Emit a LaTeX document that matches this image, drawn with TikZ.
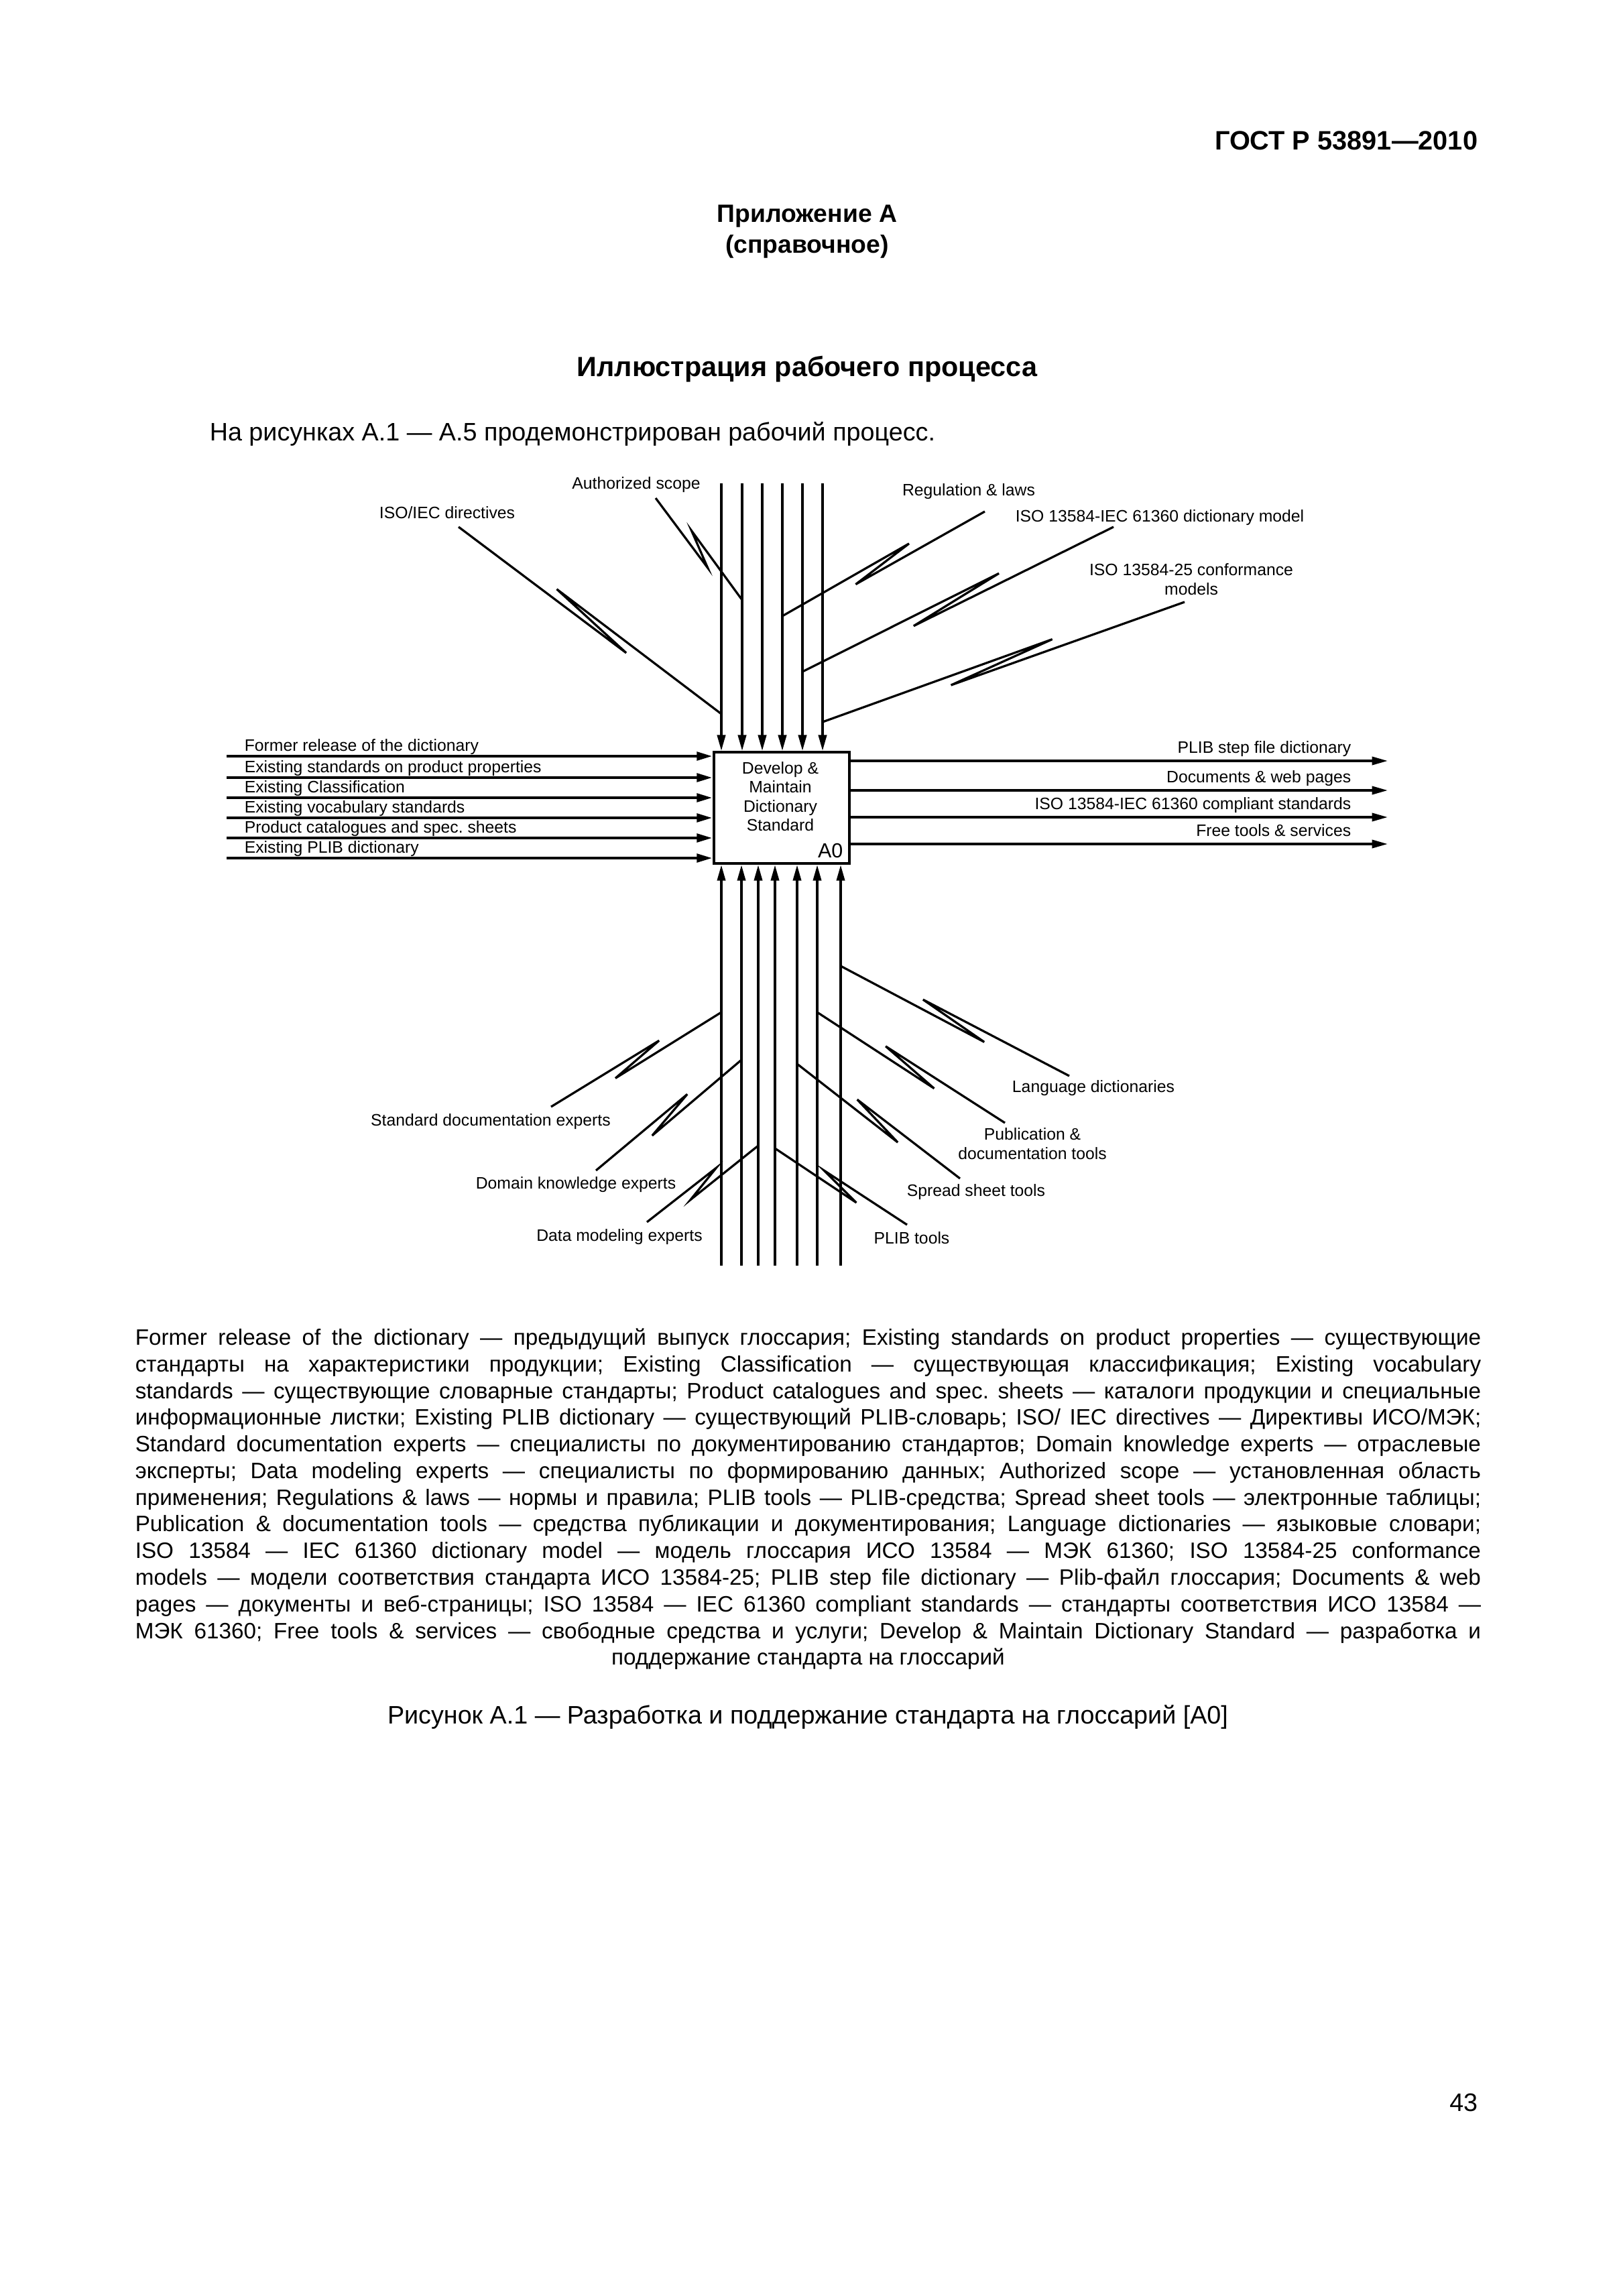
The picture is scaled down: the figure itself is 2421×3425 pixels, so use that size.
\documentclass[tikz,border=0pt]{standalone}
\usepackage{fontspec}
\setmainfont{Liberation Sans}
\usetikzlibrary{arrows.meta, calc}
\newcommand{\pxu}{0.2468pt}
\newlength{\legendw}
\setlength{\legendw}{495pt}
\frenchspacing
% lightning-shaped leader from a label to an arrow
\newcommand{\squiggle}[4]{%
  \draw[leader] (#3) -- ($(#3)!0.65!(#4)!2pt!#1:(#4)$)
    -- ($(#3)!0.36!(#4)!2.3pt!#2:(#4)$) -- (#4);}

\begin{document}
\begin{tikzpicture}[x=0.0086741cm, y=-0.0086741cm,
      lbl/.style={font=\fontsize{6.1}{7}\selectfont, inner sep=0pt},
      proc/.style={draw, line width=1pt, inner sep=0pt},
      arrow/.style={-{Triangle[length=5.8pt, width=3pt]}, line width=0.85pt},
      inarrow/.style={arrow, line width=1.15pt},
      leader/.style={line width=0.8pt},
      body/.style={font=\fontsize{9.3}{11}\selectfont, inner sep=0pt}
    ]
    \useasboundingbox (0,0) rectangle (2421,3425);

    % page head
    \node[font=\bfseries\fontsize{9.8}{12}\selectfont, anchor=east, inner sep=0pt] (hdr) at (2205,210) {ГОСТ Р 53891—2010};
    \node[font=\bfseries\fontsize{9.2}{11.35}\selectfont, align=center, inner sep=0pt] (annex) at (1204,346) {Приложение А\\(справочное)};
    \node[font=\bfseries\fontsize{10.2}{12}\selectfont, inner sep=0pt] (title) at (1204,551) {Иллюстрация рабочего процесса};
    \node[body, anchor=west] (intro) at (312,647) {На рисунках А.1 — А.5 продемонстрирован рабочий процесс.};

    % activity box
    \node[proc, minimum width=202*\pxu, minimum height=166*\pxu, anchor=north west] (box) at (1063,1120) {};
    \node[lbl, align=center] (boxtxt) at (1164,1188) {Develop \&\\Maintain\\Dictionary\\Standard};
    \node[font=\fontsize{7.5}{8}\selectfont, anchor=base east, inner sep=0pt] (a0) at (1258,1279) {A0};

    % inputs
    \foreach \y/\txt [count=\i] in {1128/Former release of the dictionary,
        1160/Existing standards on product properties, 1190/Existing Classification,
        1220/Existing vocabulary standards, 1250/Product catalogues and spec. sheets,
        1280/Existing PLIB dictionary} {
      \coordinate (in\i) at (338,\y);
      \draw[inarrow] (in\i) -- (in\i -| box.west);
      \node[lbl, anchor=base west] (inl\i) at (364,\y-8) {\txt};
    }

    % outputs
    \foreach \y/\txt [count=\i] in {1135/PLIB step file dictionary,
        1179/Documents \& web pages, 1219/ISO 13584-IEC 61360 compliant standards,
        1259/Free tools \& services} {
      \coordinate (out\i) at (2070,\y);
      \draw[arrow] (out\i -| box.east) -- (out\i);
      \node[lbl, anchor=base east] (outl\i) at (2016,\y-12) {\txt};
    }

    % controls and mechanisms
    \foreach \x [count=\i] in {1076,1107,1137,1167,1197,1227} {
      \coordinate (c\i) at (\x,721);
      \draw[arrow] (c\i) -- (c\i |- box.north);
    }
    \foreach \x [count=\i] in {1076,1106,1131,1156,1189,1219,1254} {
      \coordinate (m\i) at (\x,1888);
      \draw[arrow] (m\i) -- (m\i |- box.south);
    }

    % control labels
    \node[lbl] (dirL) at (667,765) {ISO/IEC directives};
    \node[lbl] (authL) at (949,723) {Authorized scope};
    \node[lbl] (regL) at (1445,733) {Regulation \& laws};
    \node[lbl] (dmodL) at (1730,772) {ISO 13584-IEC 61360 dictionary model};
    \node[lbl, align=center] (confL) at (1777,864) {ISO 13584-25 conformance\\models};
    \coordinate (dirS) at (684,786);   \coordinate (dirE) at (c1 |- 0,1065);
    \coordinate (authS) at (978,743);  \coordinate (authE) at (c2 |- 0,895);
    \coordinate (regS) at (1469,763);  \coordinate (regE) at (c4 |- 0,919);
    \coordinate (dmodS) at (1661,786); \coordinate (dmodE) at (c5 |- 0,1002);
    \coordinate (confS) at (1767,898); \coordinate (confE) at (c6 |- 0,1077);
    \squiggle{-90}{90}{dirS}{dirE}
    \squiggle{-90}{90}{authS}{authE}
    \squiggle{90}{-90}{regS}{regE}
    \squiggle{90}{-90}{dmodS}{dmodE}
    \squiggle{90}{-90}{confS}{confE}

    % mechanism labels
    \node[lbl] (sdocL) at (732,1673) {Standard documentation experts};
    \node[lbl] (domL) at (859,1767) {Domain knowledge experts};
    \node[lbl] (dataL) at (924,1845) {Data modeling experts};
    \node[lbl] (langL) at (1631,1623) {Language dictionaries};
    \node[lbl, align=center] (pubL) at (1540,1706) {Publication \&\\documentation tools};
    \node[lbl] (sprL) at (1456,1778) {Spread sheet tools};
    \node[lbl] (plibL) at (1360,1847) {PLIB tools};
    \coordinate (sdocS) at (822,1651); \coordinate (sdocE) at (m1 |- 0,1510);
    \coordinate (domS) at (889,1746);  \coordinate (domE) at (m2 |- 0,1581);
    \coordinate (dataS) at (965,1823); \coordinate (dataE) at (m3 |- 0,1709);
    \coordinate (langS) at (1595,1605); \coordinate (langE) at (m7 |- 0,1441);
    \coordinate (pubS) at (1499,1675); \coordinate (pubE) at (m6 |- 0,1510);
    \coordinate (sprS) at (1432,1758); \coordinate (sprE) at (m5 |- 0,1587);
    \coordinate (plibS) at (1353,1827); \coordinate (plibE) at (m4 |- 0,1713);
    \squiggle{90}{-90}{sdocS}{sdocE}
    \squiggle{90}{-90}{domS}{domE}
    \squiggle{90}{-90}{dataS}{dataE}
    \squiggle{-90}{90}{langS}{langE}
    \squiggle{-90}{90}{pubS}{pubE}
    \squiggle{-90}{90}{sprS}{sprE}
    \squiggle{-90}{90}{plibS}{plibE}

    % legend and caption
    \node[font=\fontsize{8.2}{9.81}\selectfont, align=left, inner sep=0pt, anchor=north west] (legend) at (201,1981) {%
      \makebox[\legendw][s]{Former release of the dictionary — предыдущий выпуск глоссария; Existing standards on product properties — существующие}\\
      \makebox[\legendw][s]{стандарты на характеристики продукции; Existing Classification — существующая классификация; Existing vocabulary}\\
      \makebox[\legendw][s]{standards — существующие словарные стандарты; Product catalogues and spec. sheets — каталоги продукции и специальные}\\
      \makebox[\legendw][s]{информационные листки; Existing PLIB dictionary — существующий PLIB-словарь; ISO/ IEC directives — Директивы ИСО/МЭК;}\\
      \makebox[\legendw][s]{Standard documentation experts — специалисты по документированию стандартов; Domain knowledge experts — отраслевые}\\
      \makebox[\legendw][s]{эксперты; Data modeling experts — специалисты по формированию данных; Authorized scope — установленная область}\\
      \makebox[\legendw][s]{применения; Regulations \& laws — нормы и правила; PLIB tools — PLIB-средства; Spread sheet tools — электронные таблицы;}\\
      \makebox[\legendw][s]{Publication \& documentation tools — средства публикации и документирования; Language dictionaries — языковые словари;}\\
      \makebox[\legendw][s]{ISO 13584 — IEC 61360 dictionary model — модель глоссария ИСО 13584 — МЭК 61360; ISO 13584-25 conformance}\\
      \makebox[\legendw][s]{models — модели соответствия стандарта ИСО 13584-25; PLIB step file dictionary — Plib-файл глоссария; Documents \& web}\\
      \makebox[\legendw][s]{pages — документы и веб-страницы; ISO 13584 — IEC 61360 compliant standards — стандарты соответствия ИСО 13584 —}\\
      \makebox[\legendw][s]{МЭК 61360; Free tools \& services — свободные средства и услуги; Develop \& Maintain Dictionary Standard — разработка и}\\
      \makebox[\legendw]{поддержание стандарта на глоссарий}};
    \node[body] (figcap) at (1205,2561) {Рисунок А.1 — Разработка и поддержание стандарта на глоссарий [А0]};
    \node[body, anchor=east] (pgno) at (2205,3136) {43};
  \end{tikzpicture}
\end{document}
